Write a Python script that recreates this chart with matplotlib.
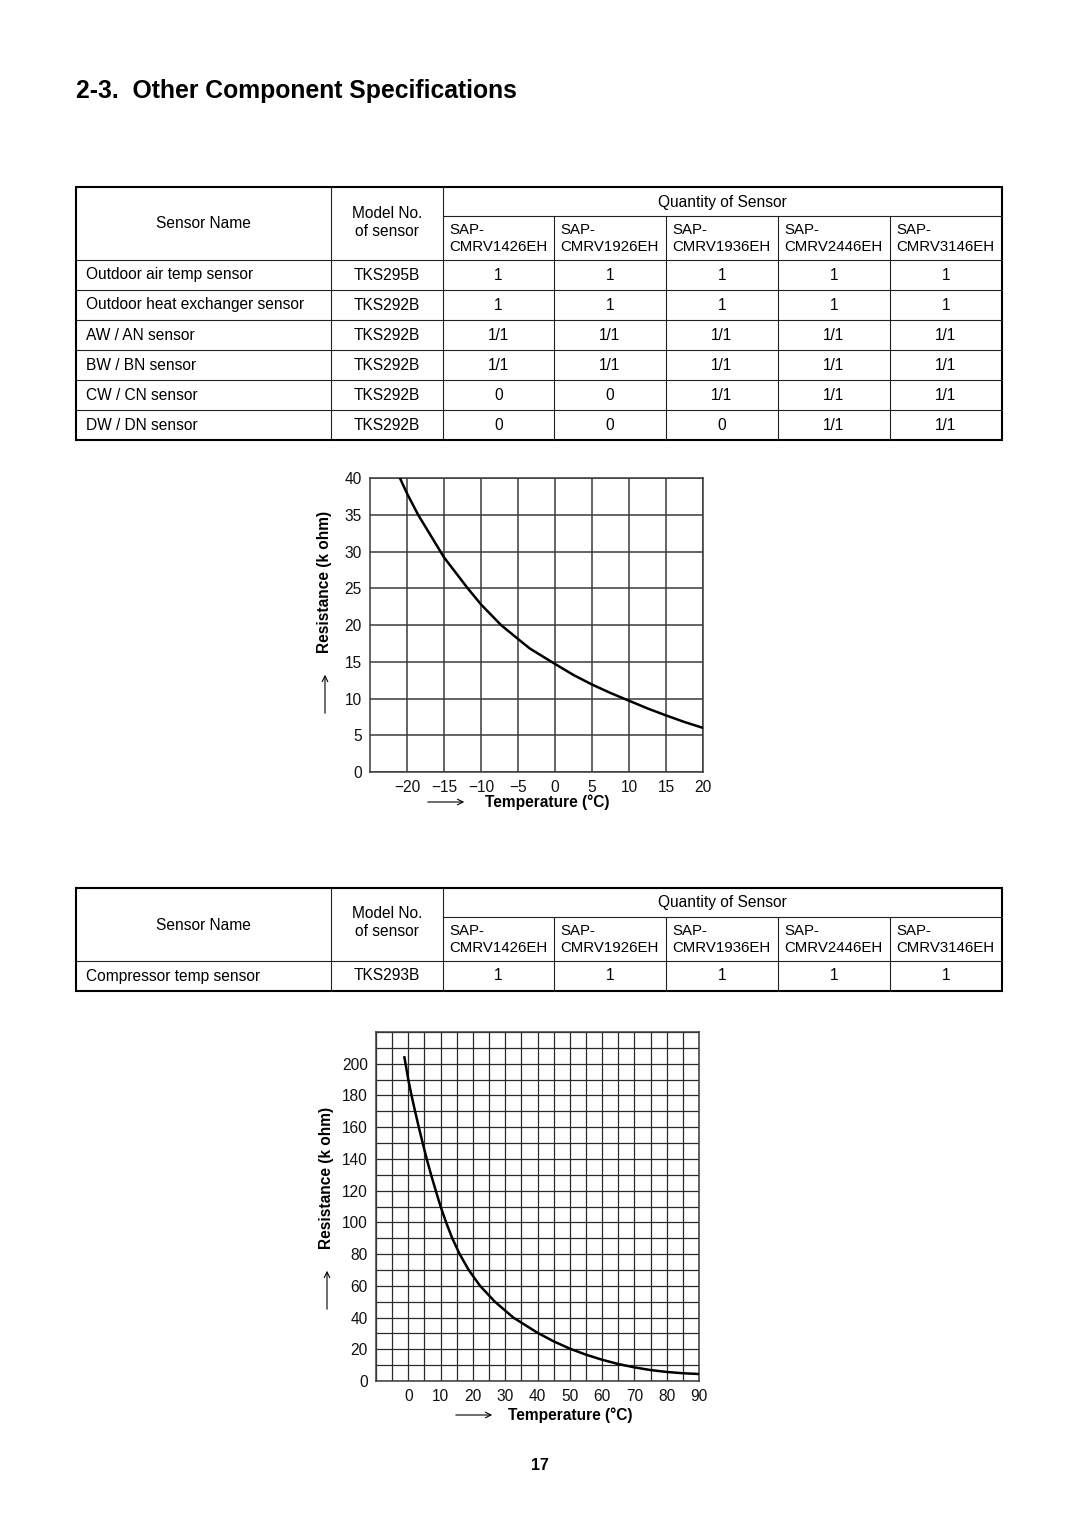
import matplotlib
matplotlib.use("Agg")
import matplotlib.pyplot as plt
from matplotlib.patches import Rectangle
from matplotlib.ticker import MultipleLocator

plt.rcParams['font.family'] = ['Liberation Sans', 'DejaVu Sans']

# Table data
model_cols = ["CMRV1426EH", "CMRV1926EH", "CMRV1936EH", "CMRV2446EH", "CMRV3146EH"]

sensor_names = ["Outdoor air temp sensor", "Outdoor heat exchanger sensor", "AW / AN sensor",
                "BW / BN sensor", "CW / CN sensor", "DW / DN sensor"]
sensor_models = ["TKS295B", "TKS292B", "TKS292B", "TKS292B", "TKS292B", "TKS292B"]
sensor_qty = [["1", "1", "1", "1", "1"],
              ["1", "1", "1", "1", "1"],
              ["1/1", "1/1", "1/1", "1/1", "1/1"],
              ["1/1", "1/1", "1/1", "1/1", "1/1"],
              ["0", "0", "1/1", "1/1", "1/1"],
              ["0", "0", "0", "1/1", "1/1"]]

comp_names = ["Compressor temp sensor"]
comp_models = ["TKS293B"]
comp_qty = [["1", "1", "1", "1", "1"]]

# Resistance curve for TKS292B / TKS295B
temp1 = [-20.96, -20, -18.5, -15, -11.8, -10, -7.3, -5, -3.4, 0, 2.5, 5, 7.5, 10, 12.5, 15, 17.5, 20]
res1 = [40, 37.9, 35, 29.2, 25, 22.8, 20, 18.1, 16.8, 14.7, 13.2, 11.9, 10.75, 9.7, 8.65, 7.7, 6.8, 6.0]

# Resistance curve for TKS293B (compressor)
temp2 = [-1.2, 0, 1, 2.1, 3.25, 4.45, 5.7, 7.05, 8.5, 10, 11.7, 13.6, 15.9, 18.7, 22.2, 26.8,
         32.5, 40, 45, 50, 55, 60, 65, 70, 75, 80, 85, 90]
res2 = [204, 190, 180, 170, 160, 150, 140, 130, 120, 110, 100, 90, 80, 70, 60, 50,
        40, 30.4, 25, 20.4, 16.6, 13.4, 10.7, 8.6, 6.9, 5.7, 4.9, 4.4]

W, H = 1080, 1527
fig = plt.figure(figsize=(W / 100, H / 100), dpi=100)
page = fig.add_axes([0, 0, 1, 1], zorder=0)
page.set_xlim(0, W)
page.set_ylim(H, 0)
page.axis('off')

col_x = [76, 331, 443, 554, 666, 778, 890, 1002]
fs = 11.2


def hline(x0, x1, y, lw=0.8):
    page.plot([x0, x1], [y, y], color='#222222', lw=lw, solid_capstyle='butt')


def vline(x, y0, y1, lw=0.8):
    page.plot([x, x], [y0, y1], color='#222222', lw=lw, solid_capstyle='butt')


def draw_table(top, names, models, qty):
    head_mid = top + 29
    head_bot = top + 73
    row_h = 30
    bottom = head_bot + row_h * len(names)

    vline(col_x[1], top, bottom)
    vline(col_x[2], top, bottom)
    for x in col_x[3:-1]:
        vline(x, head_mid, bottom)
    hline(col_x[2], col_x[-1], head_mid)
    for i in range(len(names)):
        hline(col_x[0], col_x[-1], head_bot + row_h * i)
    page.add_patch(Rectangle((col_x[0], top), col_x[-1] - col_x[0], bottom - top,
                             fill=False, lw=1.5, edgecolor='black'))

    # header text
    page.text((col_x[0] + col_x[1]) / 2, top + 37, "Sensor Name", ha='center', va='center', fontsize=fs)
    page.text((col_x[1] + col_x[2]) / 2, top + 26, "Model No.", ha='center', va='center', fontsize=fs)
    page.text((col_x[1] + col_x[2]) / 2, top + 44, "of sensor", ha='center', va='center', fontsize=fs)
    page.text((col_x[2] + col_x[-1]) / 2, top + 15, "Quantity of Sensor", ha='center', va='center', fontsize=fs)
    for j, m in enumerate(model_cols):
        page.text(col_x[j + 2] + 6, top + 43, "SAP-", ha='left', va='center', fontsize=fs - 0.4)
        page.text(col_x[j + 2] + 6, top + 60, m, ha='left', va='center', fontsize=fs - 0.4)

    # body
    for i, name in enumerate(names):
        yc = head_bot + row_h * i + row_h / 2
        page.text(col_x[0] + 10, yc, name, ha='left', va='center', fontsize=fs)
        page.text((col_x[1] + col_x[2]) / 2, yc, models[i], ha='center', va='center', fontsize=fs)
        for j, v in enumerate(qty[i]):
            page.text((col_x[j + 2] + col_x[j + 3]) / 2, yc, v, ha='center', va='center', fontsize=fs)


def px_axes(left, top, right, bottom):
    return fig.add_axes([left / W, 1 - bottom / H, (right - left) / W, (bottom - top) / H], zorder=2)


def style_chart(ax):
    ax.grid(which='both', color='#3a3a3a', lw=1.1)
    ax.set_axisbelow(True)
    ax.tick_params(which='both', length=0, labelsize=fs, pad=6, colors='#111111')
    for s in ax.spines.values():
        s.set_color('#3a3a3a')
        s.set_linewidth(1.1)


def axis_titles(ylab_x, ylab_y, yarrow, xlab_x, xlab_y, xarrow):
    page.text(ylab_x, ylab_y, "Resistance (k ohm)", rotation=90, ha='center', va='center',
              fontsize=fs, fontweight='bold')
    page.annotate("", xy=(ylab_x, yarrow[0]), xytext=(ylab_x, yarrow[1]),
                  arrowprops=dict(arrowstyle='->', lw=0.8, color='black'))
    page.text(xlab_x, xlab_y, "Temperature (\u00b0C)", ha='center', va='center',
              fontsize=fs, fontweight='bold')
    page.annotate("", xy=(xarrow[1], xlab_y), xytext=(xarrow[0], xlab_y),
                  arrowprops=dict(arrowstyle='->', lw=0.8, color='black'))


# title
page.text(76, 91, "2-3.  Other Component Specifications", ha='left', va='center',
          fontsize=17.8, fontweight='bold')

draw_table(187, sensor_names, sensor_models, sensor_qty)

# chart 1
ax1 = px_axes(370, 478, 703, 772)
ax1.plot(temp1, res1, color='black', lw=1.8, zorder=3)
ax1.set_xlim(-25, 20)
ax1.set_ylim(0, 40)
ax1.set_xticks(range(-20, 21, 5))
ax1.set_yticks(range(0, 41, 5))
style_chart(ax1)
axis_titles(325, 582, (672, 716), 547, 802, (425, 467))

draw_table(888, comp_names, comp_models, comp_qty)

# chart 2
ax2 = px_axes(376, 1032, 699, 1381)
ax2.plot(temp2, res2, color='black', lw=1.8, zorder=3)
ax2.set_xlim(-10, 90)
ax2.set_ylim(0, 220)
ax2.set_xticks(range(0, 91, 10))
ax2.set_yticks(range(0, 201, 20))
ax2.xaxis.set_minor_locator(MultipleLocator(5))
ax2.yaxis.set_minor_locator(MultipleLocator(10))
style_chart(ax2)
ax2.grid(which='both', color='#2a2a2a', lw=0.9)
axis_titles(327, 1178, (1268, 1312), 570, 1415, (453, 495))

page.text(540, 1466, "17", ha='center', va='center', fontsize=11.5, fontweight='bold')

fig.savefig("out.png", dpi=100)
